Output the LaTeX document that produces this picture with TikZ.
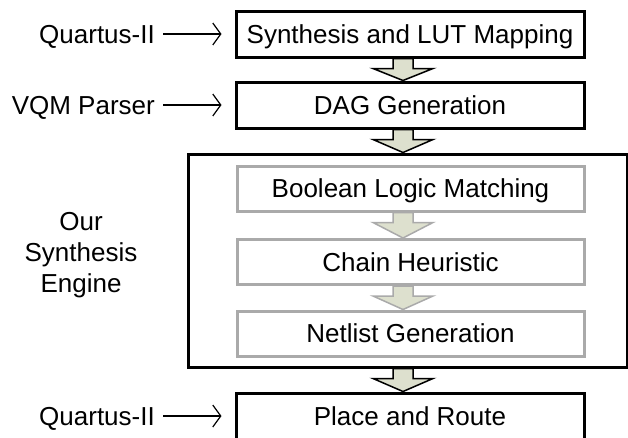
\documentclass[tikz,border=0pt]{standalone}
\usepackage{fontspec}
\setmainfont{Liberation Sans}
\usepackage{xcolor}
\usetikzlibrary{arrows.meta,calc,backgrounds}

\definecolor{flowfill}{RGB}{221,224,206}
\definecolor{subgray}{RGB}{170,170,170}

% block arrow from one stage down to the next
\newcommand{\blockflow}[3]{%
  \draw[#1] let \p1=(#2.south), \p2=(#3.north), \p3=($(#2.south)+(0,10)$) in
    (393pt,\y1) -- (393pt,\y3) -- (373pt,\y3) -- (403pt,\y2) -- (433pt,\y3) -- (413pt,\y3) -- (413pt,\y1) -- cycle;}

\begin{document}
\begin{tikzpicture}[x=1pt, y=-1pt,
    font=\fontsize{26}{31}\selectfont,
    stage/.style={rectangle, draw=black, line width=3pt, fill=white, minimum width=348pt, minimum height=46pt, text height=18.5pt, text depth=0pt, inner sep=0pt},
    substage/.style={stage, draw=subgray, minimum width=347pt, minimum height=45pt},
    tool/.style={anchor=east, inner xsep=8pt, inner ysep=0pt, text height=18.5pt, text depth=0pt},
    feed/.style={line width=1.2pt, -{Straight Barb[length=8pt,width=22pt]}, shorten >=13pt},
    flow/.style={fill=flowfill, draw=black, line width=1.5pt},
    subflow/.style={flow, draw=subgray}
]
\useasboundingbox (0,0) rectangle (628,437);

% Main stages
\node[stage] (synth) at (410,34) {Synthesis and LUT Mapping};
\node[stage] (dag) at (410,105) {DAG Generation};
\node[draw=black, line width=3pt, minimum width=439pt, minimum height=213pt, inner sep=0pt] (engine) at (407.5,260.5) {};
\node[stage] (place) at (410,416) {Place and Route};

% Stages inside the engine
\node[substage] (boolean) at (410.5,188.5) {Boolean Logic Matching};
\node[substage] (chain) at (410.5,262) {Chain Heuristic};
\node[substage] (netlist) at (410.5,333.5) {Netlist Generation};

% Tools feeding the stages
\node[tool] (quartusA) at (163,34) {Quartus-II};
\node[tool] (vqm) at (163,105) {VQM Parser};
\node[tool] (quartusB) at (163,416) {Quartus-II};
\node[align=center] (ourlabel) at (81,255) {Our\\Synthesis\\Engine};

\draw[feed] (quartusA.east) -- (synth.west);
\draw[feed] (vqm.east) -- (dag.west);
\draw[feed] (quartusB.east) -- (place.west);

% Block arrows
\begin{scope}[on background layer]
\blockflow{flow}{synth}{dag}
\blockflow{flow}{dag}{engine}
\blockflow{subflow}{boolean}{chain}
\blockflow{subflow}{chain}{netlist}
\blockflow{flow}{engine}{place}
\end{scope}

\end{tikzpicture}
\end{document}
